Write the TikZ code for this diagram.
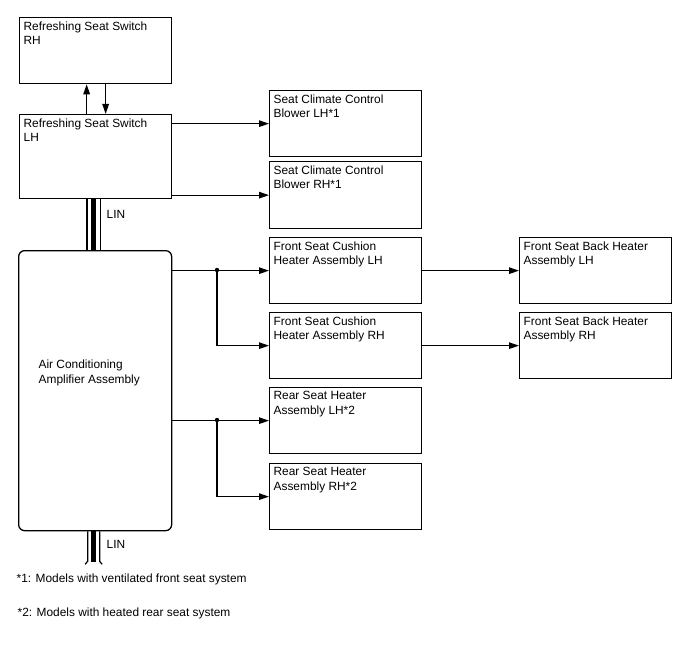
\documentclass[tikz,border=0pt]{standalone}
\usepackage{fontspec}
\setmainfont{Liberation Sans}
\usetikzlibrary{arrows.meta}

\begin{document}
\begin{tikzpicture}[x=1pt,y=-1pt,line width=1.3pt,
  every node/.style={font=\fontsize{11.9}{14.3}\selectfont},
  box/.style={draw,anchor=north west,minimum width=152pt,minimum height=66pt,inner sep=0pt},
  lbl/.style={anchor=north west,inner sep=0pt,align=left,xshift=4pt,yshift=-4pt},
  arr/.style={-{Triangle[length=10pt,width=6.5pt]}},
  lin/.style={line width=5.5pt,preaction={draw,line width=14.4pt},preaction={draw,white,line width=12pt}}]
    \useasboundingbox (0,0) rectangle (688,658);
    \node[box,label={[lbl]north west:Refreshing Seat Switch\\RH}] (rssr) at (19,17) {};
    \node[box,minimum height=84pt,label={[lbl]north west:Refreshing Seat Switch\\LH}] (rssl) at (19,114) {};
    \node[box,minimum height=66pt,label={[lbl]north west:Seat Climate Control\\Blower LH*1}] (bll) at (269,90) {};
    \node[box,minimum height=67pt,label={[lbl]north west:Seat Climate Control\\Blower RH*1}] (blr) at (269,161) {};
    \node[box,label={[lbl]north west:Front Seat Cushion\\Heater Assembly LH}] (fcl) at (269,237) {};
    \node[box,label={[lbl]north west:Front Seat Cushion\\Heater Assembly RH}] (fcr) at (269,312) {};
    \node[box,label={[lbl]north west:Front Seat Back Heater\\Assembly LH}] (fbl) at (519,237) {};
    \node[box,label={[lbl]north west:Front Seat Back Heater\\Assembly RH}] (fbr) at (519,312) {};
    \node[box,label={[lbl]north west:Rear Seat Heater\\Assembly LH*2}] (rrl) at (269,387) {};
    \node[box,label={[lbl]north west:Rear Seat Heater\\Assembly RH*2}] (rrr) at (269,463) {};
    \node[box,rounded corners=6pt,minimum width=153pt,minimum height=280pt] (ac) at (18,250) {};
    \node[anchor=west,align=left,inner sep=0pt] (actext) at (38,373) {Air Conditioning\\Amplifier Assembly};
    \coordinate (j1) at (217,270);
    \coordinate (j2) at (217,420);
    % switches
    \draw[arr] ([xshift=-9pt]rssl.north) -- ([xshift=-9pt]rssr.south);
    \draw[arr] ([xshift=10pt]rssr.south) -- ([xshift=10pt]rssl.north);
    \draw[arr] (rssl.east |- bll.west) -- (bll.west);
    \draw[arr] (rssl.east |- blr.west) -- (blr.west);
    % heaters
    \draw[arr] (ac.east |- fcl.west) -- (fcl.west);
    \draw[arr] (j1) |- (fcr.west);
    \draw[arr] (fcl.east) -- (fbl.west);
    \draw[arr] (fcr.east) -- (fbr.west);
    \draw[arr] (ac.east |- rrl.west) -- (rrl.west);
    \draw[arr] (j2) |- (rrr.west);
    \fill (j1) circle (2.2pt);
    \fill (j2) circle (2.2pt);
    % LIN
    \draw[lin] ([xshift=-2pt]rssl.south) -- ([xshift=-1.5pt]ac.north);
    \node[anchor=west,inner sep=0pt] (lin1) at (106,214) {LIN};
    \draw[line width=5.5pt] ([xshift=-1.5pt]ac.south) -- ++(0,31);
    \draw[line width=1.2pt] ([xshift=-7.5pt]ac.south) -- ++(0,30) -- ++(-2.5,3);
    \draw[line width=1.2pt] ([xshift=4.5pt]ac.south) -- ++(0,30) -- ++(2.5,3);
    \node[anchor=west,inner sep=0pt] (lin2) at (106,544) {LIN};
    % notes
    \node[anchor=west,inner sep=0pt] (fn1) at (16,579) {*1: Models with ventilated front seat system};
    \node[anchor=west,inner sep=0pt] (fn2) at (17,613) {*2: Models with heated rear seat system};
\end{tikzpicture}
\end{document}
